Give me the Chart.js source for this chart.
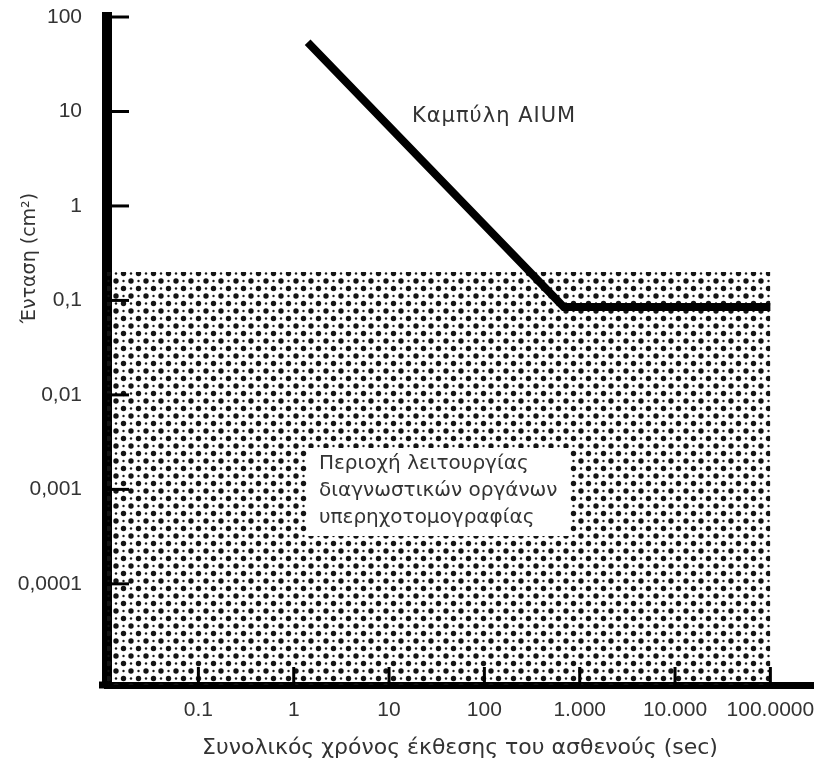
<!DOCTYPE html>
<html>
<head>
<meta charset="utf-8">
<script src="https://cdn.jsdelivr.net/npm/chart.js@4/dist/chart.umd.min.js"></script>
<style>
  body { margin: 0; background: #fff; }
  canvas { display: block; }
</style>
</head>
<body>
<canvas id="aium-chart" width="822" height="770"></canvas>
<script>
// Tick values en labels (zoals in de figuur)
const xTickValues = [0.1, 1, 10, 100, 1000, 10000, 100000];
const xTickLabels = ['0.1', '1', '10', '100', '1.000', '10.000', '100.0000'];
const yTickValues = [100, 10, 1, 0.1, 0.01, 0.001, 0.0001];
const yTickLabels = ['100', '10', '1', '0,1', '0,01', '0,001', '0,0001'];

// Assen bereik
const xMin = 0.011;
const xMax = 280000;
const yMin = 0.0000085;
const yMax = 100;

// Kromme AIUM
const aiumTime = [1.4, 680, 100000];
const aiumIntensity = [54, 0.085, 0.085];

// Gearceerde zone (diagnostische toestellen)
const zoneTime = [xMin, 100000];
const zoneIntensity = [0.2, 0.2];

// Teksten
const xTitle = 'Συνολικός χρόνος έκθεσης του ασθενούς (sec)';
const yTitle = 'Ένταση (cm²)';
const curveLabel = 'Καμπύλη AIUM';
const zoneLabel = ['Περιοχή λειτουργίας', 'διαγνωστικών οργάνων', 'υπερηχοτομογραφίας'];

const greekFont = '"DejaVu Sans", sans-serif';
const numFont = '"Liberation Sans", sans-serif';
const textColor = '#333';

document.addEventListener("DOMContentLoaded", function() {

    // stippel patroon voor de zone
    const tile = document.createElement('canvas');
    tile.width = 15;
    tile.height = 15;
    const tctx = tile.getContext('2d');
    tctx.fillStyle = '#141414';
    [[3.5, 3.5, 2.7], [11, 11, 2.7], [11, 3.5, 1.2], [3.5, 11, 1.2]].forEach(function(p) {
        tctx.beginPath();
        tctx.arc(p[0], p[1], p[2], 0, Math.PI * 2);
        tctx.fill();
    });
    const ctx = document.getElementById('aium-chart').getContext('2d');
    const dots = ctx.createPattern(tile, 'repeat');

    // tick streepjes binnen de grafiek + teksten
    const extras = {
        id: 'extras',
        afterDraw(chart) {
            const c = chart.ctx;
            const area = chart.chartArea;
            const xs = chart.scales.x;
            const ys = chart.scales.y;

            c.save();
            c.strokeStyle = '#000';
            c.lineWidth = 3;
            yTickValues.forEach(function(v) {
                const py = ys.getPixelForValue(v);
                c.beginPath();
                c.moveTo(area.left, py);
                c.lineTo(area.left + 22, py);
                c.stroke();
            });
            xTickValues.forEach(function(v) {
                const px = xs.getPixelForValue(v);
                c.beginPath();
                c.moveTo(px, area.bottom);
                c.lineTo(px, area.bottom - 18);
                c.stroke();
            });
            // x-as loopt iets door links van de y-as
            c.lineWidth = 7;
            c.beginPath();
            c.moveTo(area.left - 8, area.bottom);
            c.lineTo(area.left, area.bottom);
            c.stroke();

            // y titel
            c.fillStyle = textColor;
            c.font = '19px ' + greekFont;
            c.textAlign = 'center';
            c.textBaseline = 'middle';
            c.translate(30, 258);
            c.rotate(-Math.PI / 2);
            c.fillText(yTitle, 0, 0);
            c.restore();

            c.save();
            c.fillStyle = textColor;
            c.textBaseline = 'middle';
            c.font = '21px ' + greekFont;
            c.letterSpacing = '1px';
            c.fillText(curveLabel, 412, 117);
            c.letterSpacing = '0px';

            // witte kader met tekst
            c.fillStyle = '#fff';
            c.fillRect(308, 448, 262, 88);
            c.fillStyle = textColor;
            c.font = '20px ' + greekFont;
            zoneLabel.forEach(function(line, i) {
                c.fillText(line, 319, 464 + i * 27);
            });
            c.restore();
        }
    };

    new Chart(ctx, {
        type: 'line',
        data: {
            datasets: [{
                label: 'AIUM',
                data: aiumTime.map((t, i) => ({ x: t, y: aiumIntensity[i] })),
                borderColor: '#000',
                borderWidth: 8,
                pointRadius: 0,
                borderJoinStyle: 'miter',
                fill: false,
                order: 1
            }, {
                label: 'zone',
                data: zoneTime.map((t, i) => ({ x: t, y: zoneIntensity[i] })),
                borderWidth: 0,
                borderColor: 'rgba(0,0,0,0)',
                backgroundColor: dots,
                pointRadius: 0,
                fill: 'start',
                order: 2
            }]
        },
        options: {
            responsive: false,
            animation: false,
            layout: { padding: { top: 17, right: 9, bottom: 0, left: 0 } },
            plugins: {
                legend: { display: false },
                tooltip: { enabled: false }
            },
            scales: {
                x: {
                    type: 'logarithmic',
                    min: xMin,
                    max: xMax,
                    z: 1,
                    afterBuildTicks: function(scale) {
                        scale.ticks = xTickValues.map(v => ({ value: v }));
                    },
                    afterFit: function(scale) {
                        scale.height = 85;
                        scale.paddingLeft = 0;
                        scale.paddingRight = 0;
                    },
                    grid: { drawOnChartArea: false, drawTicks: false },
                    border: { color: '#000', width: 7 },
                    ticks: {
                        padding: 13,
                        color: textColor,
                        font: { family: numFont, size: 21 },
                        maxRotation: 0,
                        autoSkip: false,
                        callback: function(value) {
                            const i = xTickValues.indexOf(value);
                            return i >= 0 ? xTickLabels[i] : '';
                        }
                    },
                    title: {
                        display: true,
                        text: xTitle,
                        color: textColor,
                        font: { family: greekFont, size: 22 },
                        padding: { top: 4, bottom: 9 }
                    }
                },
                y: {
                    type: 'logarithmic',
                    min: yMin,
                    max: yMax,
                    z: 1,
                    afterBuildTicks: function(scale) {
                        scale.ticks = yTickValues.map(v => ({ value: v }));
                    },
                    afterFit: function(scale) {
                        scale.width = 107;
                        scale.paddingTop = 0;
                        scale.paddingBottom = 0;
                    },
                    grid: { drawOnChartArea: false, drawTicks: false },
                    border: { color: '#000', width: 10 },
                    ticks: {
                        padding: 25,
                        color: textColor,
                        font: { family: numFont, size: 21 },
                        autoSkip: false,
                        callback: function(value) {
                            const i = yTickValues.indexOf(value);
                            return i >= 0 ? yTickLabels[i] : '';
                        }
                    }
                }
            }
        },
        plugins: [extras]
    });
});
</script>
</body>
</html>
